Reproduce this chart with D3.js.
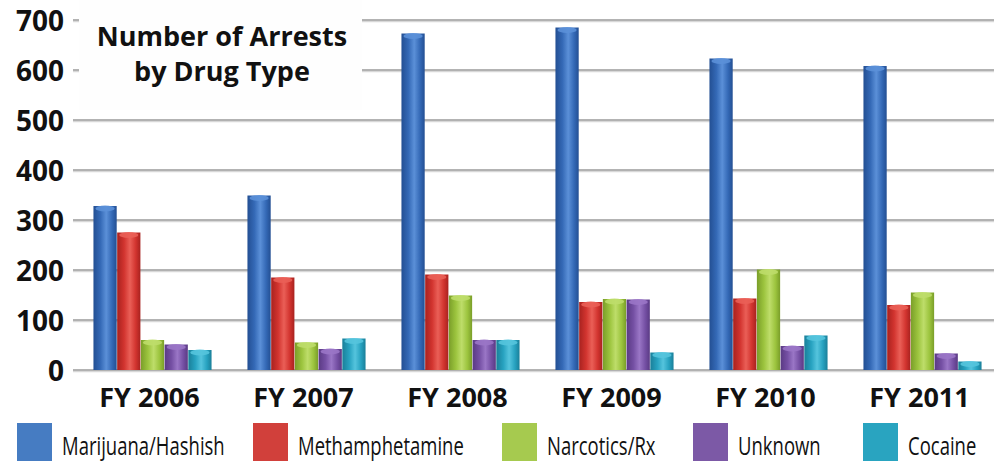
<!DOCTYPE html>
<html>
<head>
<meta charset="utf-8">
<script src="https://cdn.jsdelivr.net/npm/d3@7/dist/d3.min.js"></script>
<style>
  html, body { margin: 0; padding: 0; background: #fff; }
  svg { display: block; }
</style>
</head>
<body>
<svg id="chart" width="994" height="461"></svg>
<script>
// Arrest counts per fiscal year, one array per drug type
const categories = ["FY 2006", "FY 2007", "FY 2008", "FY 2009", "FY 2010", "FY 2011"];
const seriesNames = ["Marijuana/Hashish", "Methamphetamine", "Narcotics/Rx", "Unknown", "Cocaine"];
const marijuana = [328, 349, 673, 685, 623, 608];
const methamphetamine = [275, 185, 191, 136, 143, 130];
const narcotics = [60, 55, 149, 142, 201, 155];
const unknown = [51, 42, 60, 141, 48, 33];
const cocaine = [40, 63, 60, 35, 69, 17];
const yTicks = [0, 100, 200, 300, 400, 500, 600, 700];
const titleLines = ["Number of Arrests", "by Drug Type"];

const seriesValues = [marijuana, methamphetamine, narcotics, unknown, cocaine];
const barColors = [
  { base: "#3469b6", light: "#5b90d8", dark: "#234f93", legend: "#467cc2" },
  { base: "#d2342f", light: "#ea5f57", dark: "#a8221f", legend: "#d1403b" },
  { base: "#9cc43e", light: "#bedd6a", dark: "#7a9e29", legend: "#a6ca4f" },
  { base: "#7550a4", light: "#9a76c6", dark: "#5a3a84", legend: "#7c59a6" },
  { base: "#27a2c0", light: "#55c4dd", dark: "#1a7f99", legend: "#29a4c0" }
];

const svg = d3.select("#chart");
const defs = svg.append("defs");

// Cylinder-like horizontal shading for each series
barColors.forEach((c, i) => {
  const g = defs.append("linearGradient")
    .attr("id", "grad" + i)
    .attr("x1", "0%").attr("x2", "100%").attr("y1", "0%").attr("y2", "0%");
  g.append("stop").attr("offset", "0%").attr("stop-color", c.dark);
  g.append("stop").attr("offset", "30%").attr("stop-color", c.base);
  g.append("stop").attr("offset", "55%").attr("stop-color", c.light);
  g.append("stop").attr("offset", "80%").attr("stop-color", c.base);
  g.append("stop").attr("offset", "100%").attr("stop-color", c.dark);
});

const x0 = d3.scaleBand()
  .domain(categories)
  .range([75.5, 999.5])
  .paddingInner(0.227)
  .paddingOuter(0.1135);

const x1 = d3.scaleBand()
  .domain(seriesNames)
  .range([0, x0.bandwidth()])
  .padding(0.02);

const y = d3.scaleLinear().domain([0, 700]).range([370, 20]);

// Horizontal gridlines
const grid = svg.append("g");
grid.selectAll("line.shadow")
  .data(yTicks)
  .join("line")
  .attr("class", "shadow")
  .attr("x1", 73).attr("x2", 994)
  .attr("y1", d => y(d) + 1.5).attr("y2", d => y(d) + 1.5)
  .attr("stroke", "#d8d8d8").attr("stroke-width", 1.5);
grid.selectAll("line.main")
  .data(yTicks)
  .join("line")
  .attr("class", "main")
  .attr("x1", 73).attr("x2", 994)
  .attr("y1", d => y(d)).attr("y2", d => y(d))
  .attr("stroke", "#9a9a9a").attr("stroke-width", 1.5);

// Y axis labels
const yAxis = d3.axisLeft(y).tickValues(yTicks).tickSize(0).tickPadding(0);
const yg = svg.append("g").attr("transform", "translate(64,2)").call(yAxis);
yg.select(".domain").remove();
yg.selectAll("text")
  .attr("font-family", "'Open Sans', 'Noto Sans', sans-serif")
  .attr("font-weight", 700)
  .attr("font-size", 28)
  .attr("fill", "#111");

// Title panel
svg.append("rect")
  .attr("x", 79).attr("y", 0).attr("width", 283).attr("height", 110)
  .attr("fill", "#fefefe");
svg.append("text")
  .attr("x", 222).attr("y", 46)
  .attr("text-anchor", "middle")
  .attr("font-family", "'Open Sans', 'Noto Sans', sans-serif")
  .attr("font-weight", 700)
  .attr("font-size", 27)
  .attr("fill", "#111")
  .selectAll("tspan")
  .data(titleLines)
  .join("tspan")
  .attr("x", 222)
  .attr("dy", (d, i) => i === 0 ? 0 : 35)
  .text(d => d);

// Bars
const rows = categories.map((c, ci) => ({
  category: c,
  values: seriesNames.map((s, si) => ({ series: s, si, value: seriesValues[si][ci] }))
}));

const groups = svg.append("g").selectAll("g")
  .data(rows)
  .join("g")
  .attr("transform", d => `translate(${x0(d.category)},0)`);

groups.selectAll("rect.bar")
  .data(d => d.values)
  .join("rect")
  .attr("class", "bar")
  .attr("x", d => x1(d.series))
  .attr("y", d => y(d.value))
  .attr("width", x1.bandwidth())
  .attr("height", d => y(0) - y(d.value))
  .attr("fill", d => `url(#grad${d.si})`);

// Light cap on the top of each bar
groups.selectAll("ellipse.cap")
  .data(d => d.values)
  .join("ellipse")
  .attr("class", "cap")
  .attr("cx", d => x1(d.series) + x1.bandwidth() / 2)
  .attr("cy", d => y(d.value) + 2.5)
  .attr("rx", x1.bandwidth() / 2 - 2)
  .attr("ry", 3)
  .attr("fill", d => barColors[d.si].light)
  .attr("opacity", 0.9);

// Category labels
svg.append("g").selectAll("text")
  .data(categories)
  .join("text")
  .attr("x", d => x0(d) + x0.bandwidth() / 2 - 3)
  .attr("y", 407)
  .attr("text-anchor", "middle")
  .attr("font-family", "'Open Sans', 'Noto Sans', sans-serif")
  .attr("font-weight", 700)
  .attr("font-size", 27)
  .attr("fill", "#111")
  .text(d => d);

// Legend: swatch plus a horizontally condensed label
const legendX = [17, 253, 502, 693, 863];
const legend = svg.append("g").selectAll("g")
  .data(seriesNames)
  .join("g")
  .attr("transform", (d, i) => `translate(${legendX[i]},423)`);
legend.append("rect")
  .attr("width", 35).attr("height", 38)
  .attr("fill", (d, i) => barColors[i].legend);
legend.append("text")
  .attr("transform", "translate(45,32) scale(0.74,1)")
  .attr("font-family", "'Open Sans', 'Noto Sans', sans-serif")
  .attr("font-size", 25)
  .attr("fill", "#111")
  .text(d => d);
</script>
</body>
</html>
